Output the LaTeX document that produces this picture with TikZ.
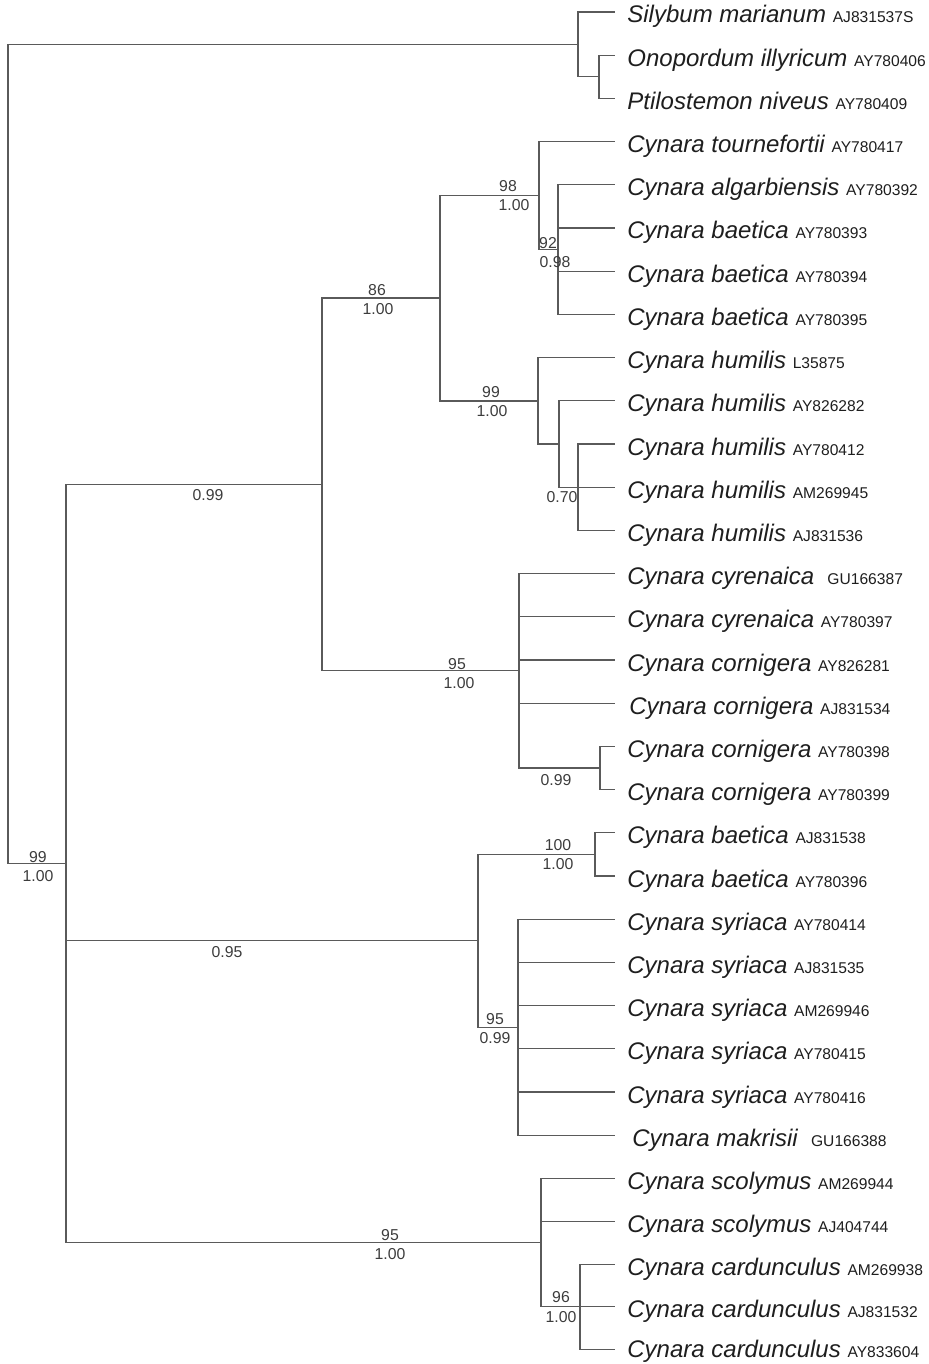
\documentclass[tikz,border=0pt]{standalone}
\usepackage{fontspec}
\setmainfont{Liberation Sans}
\definecolor{lncol}{HTML}{5A5A5A}
\definecolor{txcol}{HTML}{1E1E1E}
\definecolor{lbcol}{HTML}{3C3C3C}
\newcommand{\accno}[1]{{\upshape\fontsize{7.8}{9}\selectfont #1}}
\newcommand{\txtoff}{11}
\newcommand{\leafline}[5]{%
  \coordinate (#1e) at (615,#3);
  \draw[br] (#2) |- (#1e);
  \node[lf] (#1) at (627,#3+\txtoff) {#4 \accno{#5}};
}
\begin{document}
\begin{tikzpicture}[x=0.5pt,y=-0.5pt,
  br/.style={draw=lncol, line width=0.6pt},
  lf/.style={anchor=base west, inner sep=0pt, text=txcol, font=\fontsize{12}{14}\selectfont\itshape},
  bs/.style={inner sep=0pt, text=lbcol, font=\fontsize{7.9}{9}\selectfont}]
\useasboundingbox (0,0) rectangle (929,1364);
% internal nodes
\coordinate (R) at (8,863.8);
\coordinate (O) at (578,44.4);
\coordinate (O2) at (599,76.8);
\coordinate (I) at (66,863.8);
\coordinate (A) at (322,484.4);
\coordinate (A1) at (440,298);
\coordinate (A1a) at (539,195.6);
\coordinate (A1a2) at (558,249.6);
\coordinate (A1b) at (538,401);
\coordinate (H) at (559,444);
\coordinate (H2) at (578,487.2);
\coordinate (A2) at (519,670.8);
\coordinate (A2b) at (600,768);
\coordinate (B) at (478,940.8);
\coordinate (B1) at (595,854.4);
\coordinate (B2) at (518,1027.2);
\coordinate (C) at (541,1242.6);
\coordinate (C2) at (580,1306.8);
% internal branches
\draw[br] (R) |- (O);
\draw[br] (R) -- (I);
\draw[br] (O) |- (O2);
\draw[br] (I) |- (A);
\draw[br] (I) |- (B);
\draw[br] (I) |- (C);
\draw[br] (A) |- (A1);
\draw[br] (A) |- (A2);
\draw[br] (A1) |- (A1a);
\draw[br] (A1) |- (A1b);
\draw[br] (A1a) |- (A1a2);
\draw[br] (A1b) |- (H);
\draw[br] (H) |- (H2);
\draw[br] (A2) |- (A2b);
\draw[br] (B) |- (B1);
\draw[br] (B) |- (B2);
\draw[br] (C) |- (C2);
% leaves
\leafline{L1}{O}{12}{Silybum marianum}{AJ831537S}
\leafline{L2}{O2}{55.2}{Onopordum illyricum}{AY780406}
\leafline{L3}{O2}{98.4}{Ptilostemon niveus}{AY780409}
\leafline{L4}{A1a}{141.6}{Cynara tournefortii}{AY780417}
\leafline{L5}{A1a2}{184.8}{Cynara algarbiensis}{AY780392}
\leafline{L6}{A1a2}{228}{Cynara baetica}{AY780393}
\leafline{L7}{A1a2}{271.2}{Cynara baetica}{AY780394}
\leafline{L8}{A1a2}{314.4}{Cynara baetica}{AY780395}
\leafline{L9}{A1b}{357.6}{Cynara humilis}{L35875}
\leafline{L10}{H}{400.8}{Cynara humilis}{AY826282}
\leafline{L11}{H2}{444}{Cynara humilis}{AY780412}
\leafline{L12}{H2}{487.2}{Cynara humilis}{AM269945}
\leafline{L13}{H2}{530.4}{Cynara humilis}{AJ831536}
\leafline{L14}{A2}{573.6}{Cynara cyrenaica\ }{GU166387}
\leafline{L15}{A2}{616.8}{Cynara cyrenaica}{AY780397}
\leafline{L16}{A2}{660}{Cynara cornigera}{AY826281}
\leafline{L17}{A2}{703.2}{\hspace{1pt}Cynara cornigera}{AJ831534}
\leafline{L18}{A2b}{746.4}{Cynara cornigera}{AY780398}
\leafline{L19}{A2b}{789.6}{Cynara cornigera}{AY780399}
\leafline{L20}{B1}{832.8}{Cynara baetica}{AJ831538}
\leafline{L21}{B1}{876}{Cynara baetica}{AY780396}
\leafline{L22}{B2}{919.2}{Cynara syriaca}{AY780414}
\leafline{L23}{B2}{962.4}{Cynara syriaca}{AJ831535}
\leafline{L24}{B2}{1005.6}{Cynara syriaca}{AM269946}
\leafline{L25}{B2}{1048.8}{Cynara syriaca}{AY780415}
\leafline{L26}{B2}{1092}{Cynara syriaca}{AY780416}
\leafline{L27}{B2}{1135.2}{\hspace{2.5pt}Cynara makrisii\ }{GU166388}
\leafline{L28}{C}{1178.4}{Cynara scolymus}{AM269944}
\leafline{L29}{C}{1221.6}{Cynara scolymus}{AJ404744}
\leafline{L30}{C2}{1264.2}{Cynara cardunculus}{AM269938}
\leafline{L31}{C2}{1306.8}{Cynara cardunculus}{AJ831532}
\renewcommand{\txtoff}{8.5}
\leafline{L32}{C2}{1349.4}{Cynara cardunculus}{AY833604}
% support values
\node[bs] (s1) at (38,857) {99};
\node[bs] (s1b) at (38,876) {1.00};
\node[bs] (s2) at (208,495) {0.99};
\node[bs] (s3) at (377,290) {86};
\node[bs] (s3b) at (378,309) {1.00};
\node[bs] (s4) at (508,186) {98};
\node[bs] (s4b) at (514,205) {1.00};
\node[bs] (s5) at (548,243) {92};
\node[bs] (s5b) at (555,262) {0.98};
\node[bs] (s6) at (491,392) {99};
\node[bs] (s6b) at (492,411) {1.00};
\node[bs] (s7) at (562,497) {0.70};
\node[bs] (s8) at (457,664) {95};
\node[bs] (s8b) at (459,683) {1.00};
\node[bs] (s9) at (556,780) {0.99};
\node[bs] (s10) at (227,952) {0.95};
\node[bs] (s11) at (558,845) {100};
\node[bs] (s11b) at (558,864) {1.00};
\node[bs] (s12) at (495,1019) {95};
\node[bs] (s12b) at (495,1038) {0.99};
\node[bs] (s13) at (390,1235) {95};
\node[bs] (s13b) at (390,1254) {1.00};
\node[bs] (s14) at (561,1297) {96};
\node[bs] (s14b) at (561,1317) {1.00};
\end{tikzpicture}
\end{document}
